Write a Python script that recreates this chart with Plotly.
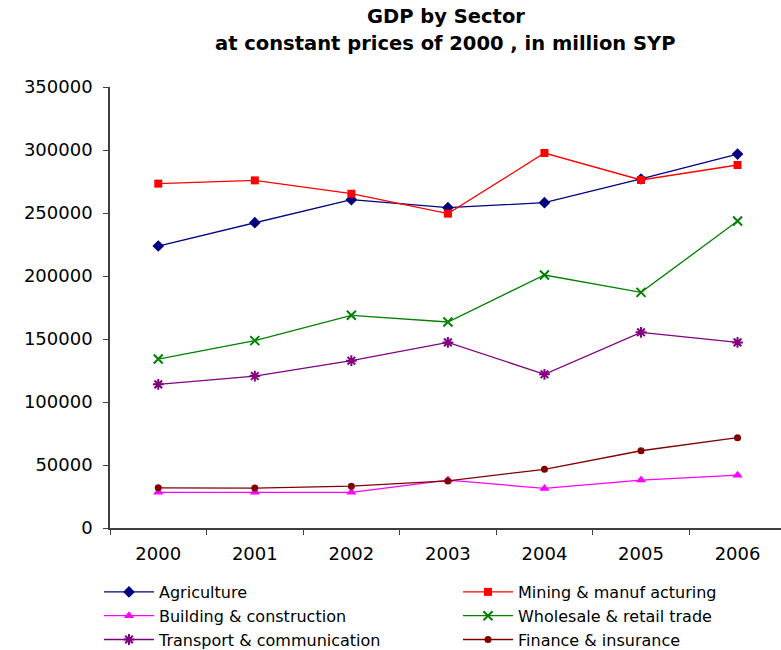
import plotly.graph_objects as go

years = ["2000", "2001", "2002", "2003", "2004", "2005", "2006"]

agriculture = [223800, 242300, 260600, 254200, 258200, 277000, 296800]
mining_manufacturing = [273300, 275900, 265300, 249500, 297600, 276200, 288100]
building_construction = [28300, 28300, 28300, 38000, 31400, 38000, 41900]
wholesale_retail = [134100, 148700, 168800, 163500, 200800, 187000, 243600]
transport_communication = [114000, 120600, 132800, 147300, 122000, 155300, 147300]
finance_insurance = [31900, 31700, 33200, 37400, 46600, 61300, 71700]

y_ticks = [0, 50000, 100000, 150000, 200000, 250000, 300000, 350000]

FONT = "DejaVu Sans, Arial, sans-serif"

# (name, values, colour, marker, legend column)
series = [
    ("Agriculture", agriculture, "#000080", dict(symbol="diamond", size=9), "legend"),
    ("Mining & manuf acturing", mining_manufacturing, "#FF0000",
     dict(symbol="square", size=8), "legend2"),
    ("Building & construction", building_construction, "#FF00FF",
     dict(symbol="triangle-up", size=9), "legend"),
    ("Wholesale & retail trade", wholesale_retail, "#008000",
     dict(symbol="x-thin-open", size=9, line=dict(width=2, color="#008000")), "legend2"),
    ("Transport & communication", transport_communication, "#800080",
     dict(symbol="asterisk-open", size=9, line=dict(width=2, color="#800080")), "legend"),
    ("Finance & insurance", finance_insurance, "#800000",
     dict(symbol="circle", size=7), "legend2"),
]

fig = go.Figure()
for name, vals, color, marker, leg in series:
    fig.add_trace(go.Scatter(
        x=years, y=vals, name=name, mode="lines+markers",
        line=dict(color=color, width=1.3),
        marker=dict(color=color, **marker),
        legend=leg, legendgroup=name,
    ))

legend_common = dict(
    orientation="v", xref="container", yref="container",
    xanchor="left", yanchor="top",
    font=dict(family=FONT, size=16, color="black"),
    tracegroupgap=0, itemwidth=50, bgcolor="rgba(0,0,0,0)",
)

fig.update_layout(
    width=781, height=650,
    margin=dict(l=110, r=0, t=87, b=122, autoexpand=False),
    paper_bgcolor="white", plot_bgcolor="white",
    font=dict(family=FONT, size=18, color="black"),
    showlegend=True,
    legend=dict(x=99 / 781, y=1 - 575 / 650, **legend_common),
    legend2=dict(x=458 / 781, y=1 - 575 / 650, **legend_common),
    annotations=[
        dict(text="<b>GDP by Sector</b>", xref="paper", yref="paper",
             x=0.5, y=(528 - 17) / 441, xanchor="center", yanchor="middle",
             showarrow=False, font=dict(family=FONT, size=19.5, color="black")),
        dict(text="<b>at constant prices of 2000 , in million SYP</b>",
             xref="paper", yref="paper",
             x=0.5, y=(528 - 43) / 441, xanchor="center", yanchor="middle",
             showarrow=False, font=dict(family=FONT, size=19.5, color="black")),
    ],
)

fig.update_xaxes(
    type="category", range=[-0.5, 6.45],
    showline=True, linecolor="#404040", linewidth=1.5,
    ticks="outside", tickson="boundaries", ticklen=5, tickcolor="#404040",
    showgrid=False, zeroline=False, ticklabelstandoff=9,
    tickfont=dict(family=FONT, size=18),
)
fig.update_yaxes(
    range=[0, 350000], tickvals=y_ticks, tickformat="d",
    showline=True, linecolor="#404040", linewidth=1.5,
    ticks="outside", ticklen=5, tickcolor="#404040",
    showgrid=False, zeroline=False, ticklabelstandoff=7,
    tickfont=dict(family=FONT, size=18),
)

fig.write_html("out.html")
